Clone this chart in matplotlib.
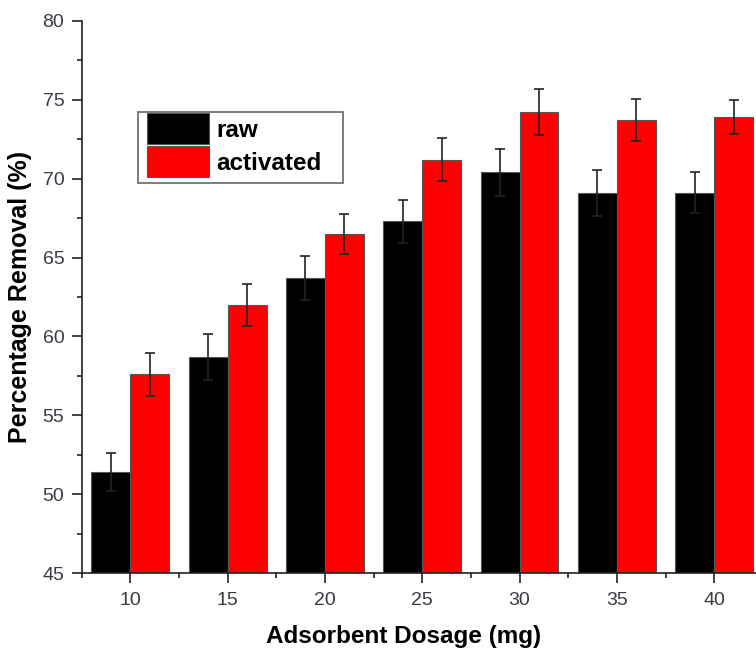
import numpy as np
import matplotlib.pyplot as plt
from matplotlib.patches import Rectangle
from matplotlib.ticker import MultipleLocator

plt.rcParams['font.family'] = ['Liberation Sans', 'DejaVu Sans']

# adsorbent dosage (mg) and % removal for both adsorbents
dosage = [10, 15, 20, 25, 30, 35, 40]
raw = [51.4, 58.7, 63.7, 67.3, 70.4, 69.1, 69.1]
raw_err = [1.2, 1.45, 1.4, 1.35, 1.5, 1.45, 1.3]
activated = [57.6, 62.0, 66.5, 71.2, 74.2, 73.7, 73.9]
act_err = [1.35, 1.35, 1.25, 1.35, 1.45, 1.35, 1.1]

W, H = 756, 650
tick_color = '#3a3a44'
err_kw = dict(ecolor='#222222', elinewidth=1.2, capsize=3.8, capthick=1.2)

fig = plt.figure(figsize=(W / 100, H / 100), dpi=100)
ax = fig.add_axes([81.7 / W, 1 - 573.3 / H, 1 - 81.7 / W, 552.6 / H])

x = np.array(dosage)
ax.bar(x - 1, raw, width=2, color='black', edgecolor='#555555', linewidth=0.8,
       yerr=raw_err, error_kw=err_kw, label='raw', zorder=2)
ax.bar(x + 1, activated, width=2, color='#ff0000', edgecolor='#555555', linewidth=0.8,
       yerr=act_err, error_kw=err_kw, label='activated', zorder=2)

ax.set_xlim(7.5, 42.15)
ax.set_ylim(45, 80)
ax.xaxis.set_major_locator(MultipleLocator(5))
ax.xaxis.set_minor_locator(MultipleLocator(2.5))
ax.yaxis.set_major_locator(MultipleLocator(5))
ax.yaxis.set_minor_locator(MultipleLocator(2.5))

for side in ('top', 'right'):
    ax.spines[side].set_visible(False)
for side in ('left', 'bottom'):
    ax.spines[side].set_linewidth(1.2)
    ax.spines[side].set_color('#222222')

ax.tick_params(axis='both', which='major', direction='out', length=7, width=1.2,
               color='#222222', labelsize=14, labelcolor=tick_color)
ax.tick_params(axis='both', which='minor', direction='out', length=3.5, width=1.2,
               color='#222222')
ax.tick_params(axis='x', which='major', pad=6.5)
ax.tick_params(axis='y', which='major', pad=5.5)

ax.set_xlabel('Adsorbent Dosage (mg)', fontsize=17.5, fontweight='bold')
ax.xaxis.set_label_coords(0.478, -0.115)
ax.xaxis.label.set_va('center')
ax.set_ylabel('Percentage Removal (%)', fontsize=18, fontweight='bold')
ax.yaxis.set_label_coords(-0.0915, 0.5)
ax.yaxis.label.set_va('center')

# legend entries without frame, framed by a plain box
ax.legend(loc='upper left', bbox_to_anchor=(146.7 / W, 1 - 113.5 / H),
          bbox_transform=fig.transFigure, borderaxespad=0, borderpad=0,
          prop={'weight': 'bold', 'size': 17.5}, frameon=False,
          handlelength=2.55, handleheight=1.55, labelspacing=0.1, handletextpad=0.3)
fig.patches.append(Rectangle((138.3 / W, 1 - 182.7 / H), 204.4 / W, 71 / H,
                             transform=fig.transFigure, fill=False,
                             edgecolor='#666666', linewidth=1.2, zorder=5))

fig.savefig('out.png', dpi=100)
